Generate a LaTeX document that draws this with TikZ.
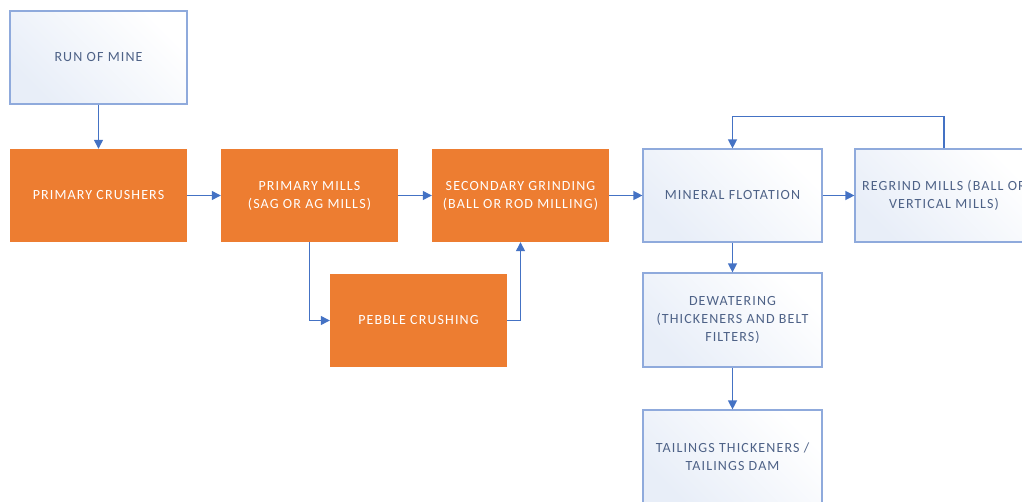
\documentclass[tikz,border=0pt]{standalone}
\usepackage{fontspec}
\setmainfont{Carlito}[LetterSpace=8]
\usetikzlibrary{arrows.meta}
\definecolor{org}{RGB}{237,125,49}
\definecolor{ln}{RGB}{68,114,196}
\definecolor{bd}{RGB}{143,170,220}
\definecolor{txt}{RGB}{78,98,135}
\definecolor{lt}{RGB}{232,238,248}
\begin{document}
\begin{tikzpicture}[x=1pt,y=-1pt,
 box/.style={minimum width=177pt,minimum height=93pt,inner sep=0pt,align=center,font=\fontsize{14}{18}\selectfont},
 orangebox/.style={box,fill=org,text=white},
 lightbox/.style={box,draw=bd,line width=1.2pt,text=txt,shading=axis,left color=white,right color=lt,shading angle=-45},
 flow/.style={draw=ln,line width=1.3pt,-{Triangle[length=9pt,width=9pt]}}
]
\useasboundingbox (0,0) rectangle (1022,502);
\clip (0,0) rectangle (1022,502);
\node[lightbox] (rom) at (98.5,57.5) {RUN OF MINE};
\node[orangebox] (pc) at (98.5,195.5) {PRIMARY CRUSHERS};
\node[orangebox] (pm) at (309.5,195.5) {PRIMARY MILLS\\(SAG OR AG MILLS)};
\node[orangebox] (sg) at (520.5,195.5) {SECONDARY GRINDING\\(BALL OR ROD MILLING)};
\node[lightbox,minimum width=179pt] (mf) at (732.5,195.5) {MINERAL FLOTATION};
\node[lightbox,minimum width=178pt] (rg) at (944,195.5) {REGRIND MILLS (BALL OR\\VERTICAL MILLS)};
\node[orangebox] (pb) at (418.5,320.5) {PEBBLE CRUSHING};
\node[lightbox,minimum width=179pt,minimum height=94pt] (dw) at (732.5,320) {DEWATERING\\(THICKENERS AND BELT\\FILTERS)};
\node[lightbox,minimum width=179pt] (tt) at (732.5,456.5) {TAILINGS THICKENERS /\\TAILINGS DAM};
\draw[flow] (rom) -- (pc);
\draw[flow] (pc) -- (pm);
\draw[flow] (pm) -- (sg);
\draw[flow] (sg) -- (mf);
\draw[flow] (mf) -- (rg);
\draw[flow] (pm.south) |- (pb.west);
\draw[flow] (pb.east) -| (sg.south);
\draw[flow] (rg.north) -- ++(0,-32) -| (mf.north);
\draw[flow] (mf) -- (dw);
\draw[flow] (dw) -- (tt);
\end{tikzpicture}
\end{document}
